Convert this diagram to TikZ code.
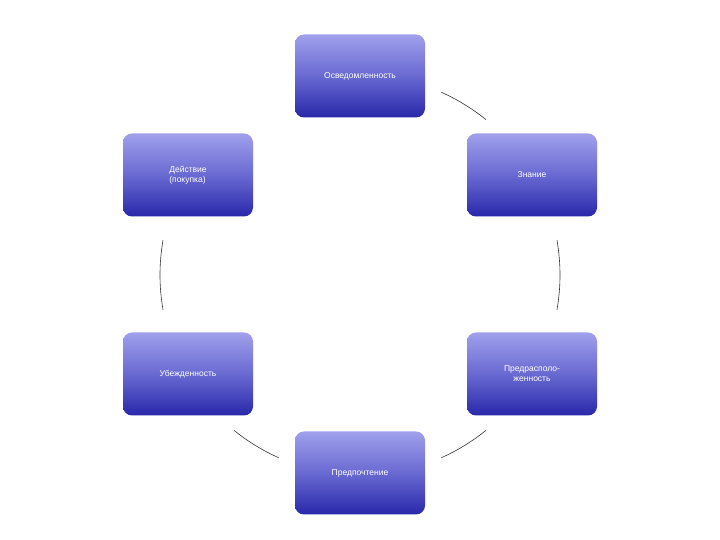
\documentclass[tikz,border=0pt]{standalone}
\usepackage{fontspec}
\setmainfont{Liberation Sans}
\begin{document}
\begin{tikzpicture}[x=1pt,y=1pt,
  box/.style={rounded corners=9pt, minimum width=130pt, minimum height=83pt, inner sep=3pt,
    top color={rgb,255:red,160;green,160;blue,236}, bottom color={rgb,255:red,40;green,40;blue,170},
    middle color={rgb,255:red,105;green,105;blue,210}, text=white, font=\fontsize{8.5}{10}\selectfont, align=center},
  arc/.style={draw=black!80, line width=0.6pt}]
\useasboundingbox (0,0) rectangle (720,540);
\node[box] (a) at (360,464) {Осведомленность};
\node[box] (b) at (532,365) {Знание};
\node[box] (c) at (532,166) {Предрасполо-\\женность};
\node[box] (d) at (360,67) {Предпочтение};
\node[box] (e) at (188,166) {Убежденность};
\node[box,align=left] (f) at (188,365) {Действие\\(покупка)};
\coordinate (o) at (360,265);
\draw[arc] ([shift={(66:200)}]o) arc (66:51:200);
\draw[arc] ([shift={(10:200)}]o) arc (10:-10:200);
\draw[arc] ([shift={(-51:200)}]o) arc (-51:-66:200);
\draw[arc] ([shift={(-114:200)}]o) arc (-114:-129:200);
\draw[arc] ([shift={(170:200)}]o) arc (170:190:200);
\end{tikzpicture}
\end{document}
